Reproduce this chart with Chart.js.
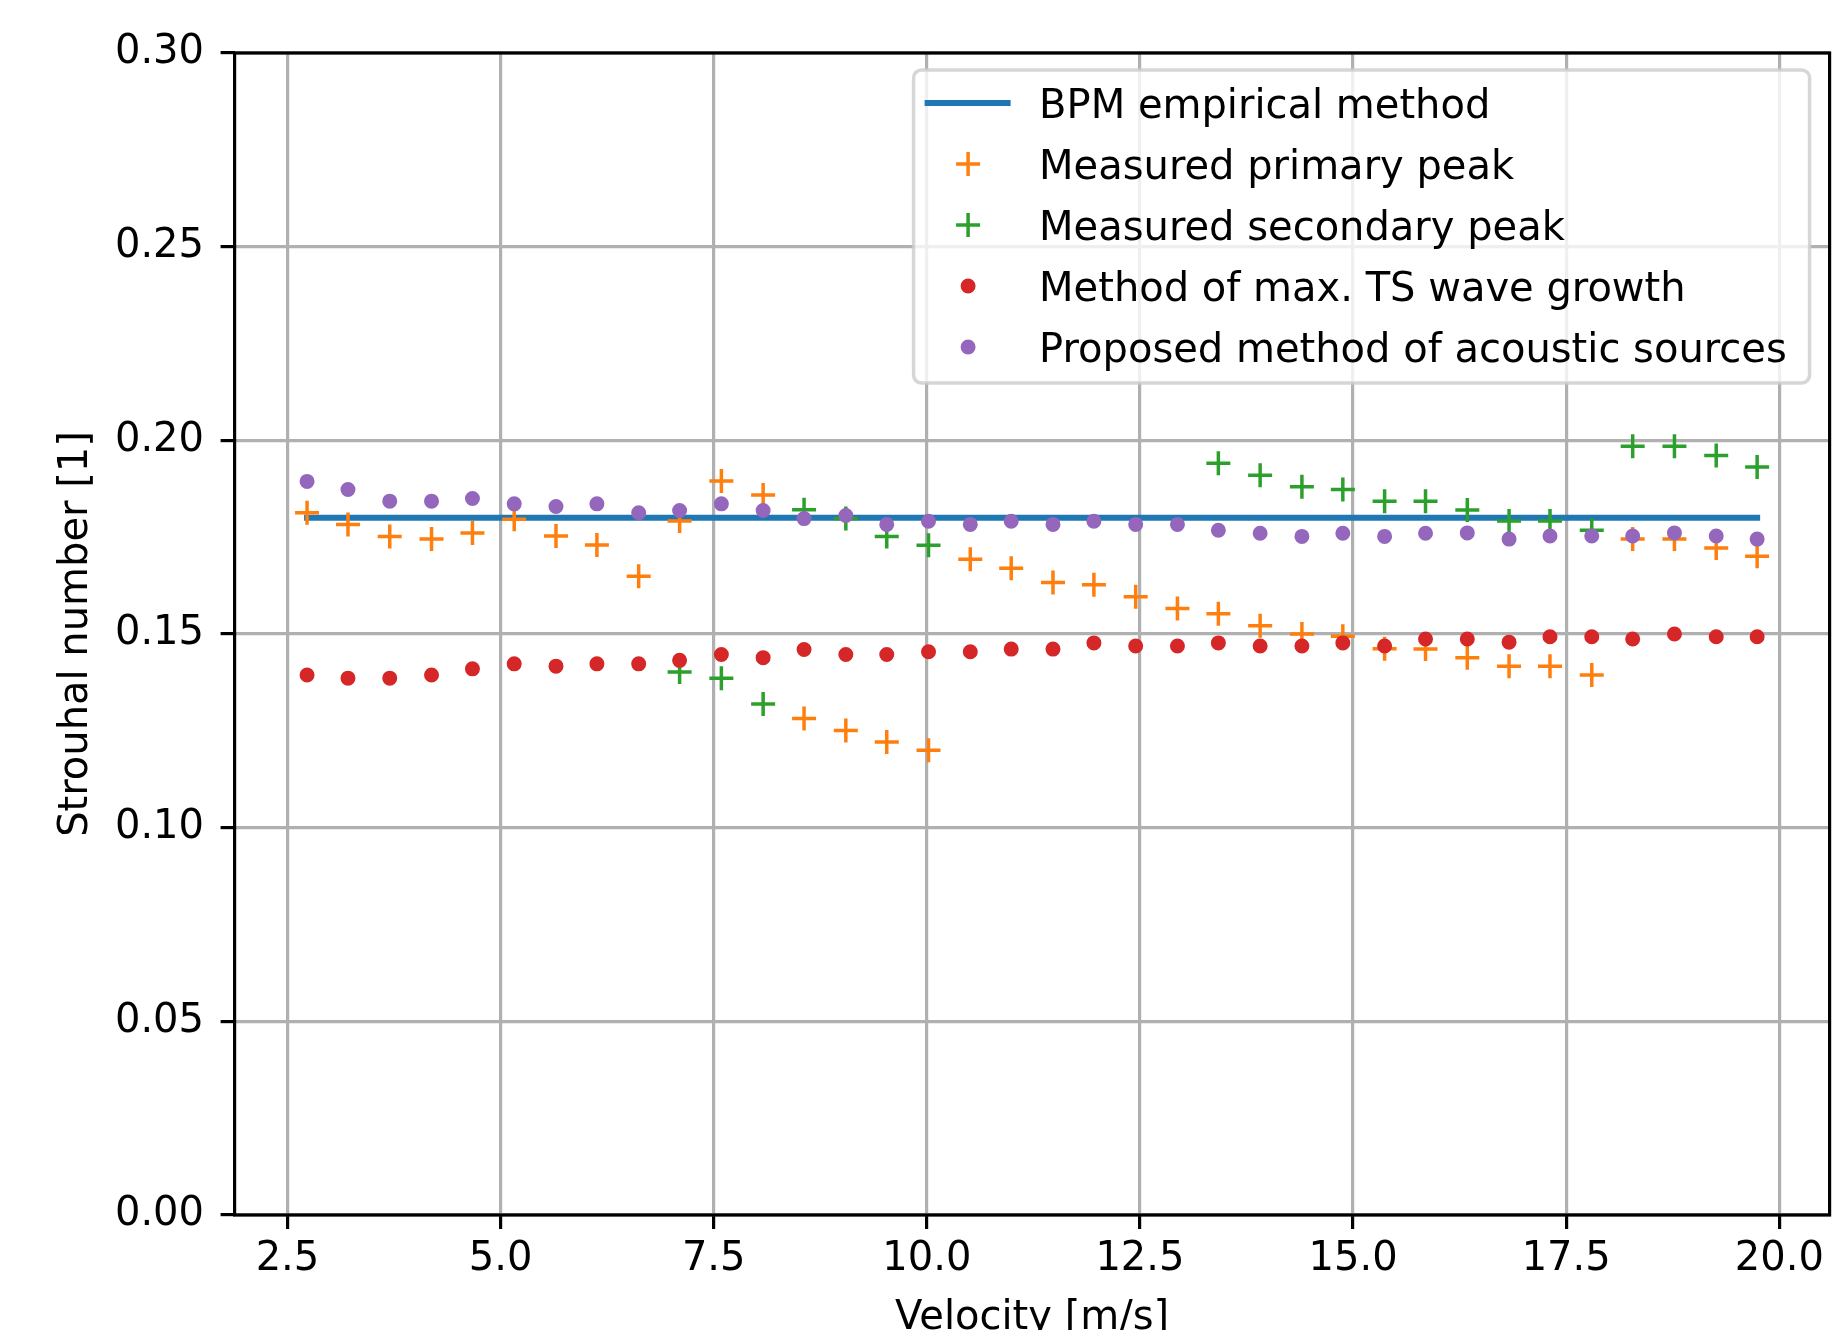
<!DOCTYPE html>
<html>
<head>
<meta charset="utf-8">
<script src="https://cdn.jsdelivr.net/npm/chart.js@4/dist/chart.umd.min.js"></script>
<style>
html, body { margin: 0; padding: 0; background: #ffffff; overflow: hidden; width: 1839px; height: 1330px; }
canvas { display: block; }
</style>
</head>
<body>
<canvas id="c" width="1839" height="1370" style="width:1839px;height:1370px"></canvas>
<script>
// ---- data ----
const velocity = [2.73, 3.21, 3.70, 4.19, 4.67, 5.16, 5.65, 6.13, 6.62, 7.10, 7.59, 8.08, 8.56, 9.05, 9.53, 10.02, 10.51, 10.99,
                  11.48, 11.96, 12.45, 12.94, 13.42, 13.91, 14.40, 14.88, 15.37, 15.85, 16.34, 16.83, 17.31, 17.80, 18.28, 18.77, 19.26, 19.74];
const bpmEmpirical = [0.18, 0.18, 0.18, 0.18, 0.18, 0.18, 0.18, 0.18, 0.18, 0.18, 0.18, 0.18, 0.18, 0.18, 0.18, 0.18, 0.18, 0.18,
                      0.18, 0.18, 0.18, 0.18, 0.18, 0.18, 0.18, 0.18, 0.18, 0.18, 0.18, 0.18, 0.18, 0.18, 0.18, 0.18, 0.18, 0.18];
const primaryPeak = [0.1813, 0.1783, 0.1752, 0.1745, 0.1761, 0.1796, 0.1753, 0.1730, 0.1649, 0.1792, 0.1895, 0.1859, 0.1282, 0.1251,
                     0.1221, 0.1200, 0.1693, 0.1670, 0.1633, 0.1627, 0.1596, 0.1566, 0.1552, 0.1521, 0.1500, 0.1494, 0.1462, 0.1461,
                     0.1439, 0.1417, 0.1417, 0.1394, 0.1745, 0.1745, 0.1722, 0.1701];
const secondaryPeak = [null, null, null, null, null, null, null, null, null, 0.1402, 0.1386, 0.1319, 0.1821, 0.1798, 0.1752, 0.1729,
                       null, null, null, null, null, null, 0.1941, 0.1910, 0.1880, 0.1873, 0.1843, 0.1843, 0.1820, 0.1792, 0.1792,
                       0.1768, 0.1985, 0.1985, 0.1961, 0.1931];
const tsWaveGrowth = [0.1394, 0.1386, 0.1386, 0.1394, 0.1410, 0.1423, 0.1417, 0.1423, 0.1423, 0.1432, 0.1447, 0.1439, 0.1460, 0.1447,
                      0.1447, 0.1454, 0.1454, 0.1461, 0.1461, 0.1477, 0.1469, 0.1469, 0.1477, 0.1469, 0.1469, 0.1477, 0.1469, 0.1487,
                      0.1487, 0.1479, 0.1493, 0.1493, 0.1487, 0.1500, 0.1493, 0.1493];
const acousticSources = [0.1894, 0.1873, 0.1843, 0.1843, 0.1850, 0.1836, 0.1829, 0.1836, 0.1813, 0.1819, 0.1836, 0.1819, 0.1798, 0.1806,
                         0.1783, 0.1791, 0.1783, 0.1791, 0.1783, 0.1791, 0.1783, 0.1783, 0.1768, 0.1760, 0.1752, 0.1760, 0.1752, 0.1760,
                         0.1761, 0.1745, 0.1753, 0.1753, 0.1753, 0.1761, 0.1753, 0.1745];
const seriesLabels = ['BPM empirical method', 'Measured primary peak', 'Measured secondary peak',
                      'Method of max. TS wave growth', 'Proposed method of acoustic sources'];
const xTickValues = [2.5, 5.0, 7.5, 10.0, 12.5, 15.0, 17.5, 20.0];
const xTickLabels = ['2.5', '5.0', '7.5', '10.0', '12.5', '15.0', '17.5', '20.0'];
const yTickValues = [0.00, 0.05, 0.10, 0.15, 0.20, 0.25, 0.30];
const yTickLabels = ['0.00', '0.05', '0.10', '0.15', '0.20', '0.25', '0.30'];
const xAxisTitle = 'Velocity [m/s]';
const yAxisTitle = 'Strouhal number [1]';

// ---- styling ----
const FONT = 'DejaVu Sans';
const FS = 40;
const colors = ['#1f77b4', '#ff7f0e', '#2ca02c', '#d62728', '#9467bd'];

function pts(ys) {
  const out = [];
  for (let i = 0; i < velocity.length; i++) {
    if (ys[i] !== null && ys[i] !== undefined) out.push({ x: velocity[i], y: ys[i] });
  }
  return out;
}

const frameAndLegend = {
  id: 'frameAndLegend',
  afterDatasetsDraw(chart) {
    const ctx = chart.ctx;
    const ca = chart.chartArea;
    ctx.save();
    // axes frame
    ctx.strokeStyle = '#000000';
    ctx.lineWidth = 3.2;
    ctx.strokeRect(ca.left, ca.top, ca.right - ca.left, ca.bottom - ca.top);

    // legend box
    const bw = 896, bh = 313;
    const bx = ca.right - 20 - bw;
    const by = ca.top + 17;
    const r = 8;
    ctx.beginPath();
    ctx.moveTo(bx + r, by);
    ctx.lineTo(bx + bw - r, by);
    ctx.arcTo(bx + bw, by, bx + bw, by + r, r);
    ctx.lineTo(bx + bw, by + bh - r);
    ctx.arcTo(bx + bw, by + bh, bx + bw - r, by + bh, r);
    ctx.lineTo(bx + r, by + bh);
    ctx.arcTo(bx, by + bh, bx, by + bh - r, r);
    ctx.lineTo(bx, by + r);
    ctx.arcTo(bx, by, bx + r, by, r);
    ctx.closePath();
    ctx.fillStyle = 'rgba(255,255,255,0.8)';
    ctx.fill();
    ctx.strokeStyle = 'rgba(204,204,204,0.8)';
    ctx.lineWidth = 3.5;
    ctx.stroke();

    const ds = chart.data.datasets;
    for (let i = 0; i < ds.length; i++) {
      const cy = by + 33 + i * 61;
      const mx = bx + 54.5;
      const d = ds[i];
      if (i === 0) {
        ctx.strokeStyle = d.borderColor;
        ctx.lineWidth = 6;
        ctx.lineCap = 'butt';
        ctx.beginPath();
        ctx.moveTo(bx + 11, cy);
        ctx.lineTo(bx + 97, cy);
        ctx.stroke();
      } else if (d.pointStyle === 'cross') {
        const rr = d.pointRadius;
        ctx.strokeStyle = d.borderColor;
        ctx.lineWidth = d.borderWidth;
        ctx.beginPath();
        ctx.moveTo(mx - rr, cy); ctx.lineTo(mx + rr, cy);
        ctx.moveTo(mx, cy - rr); ctx.lineTo(mx, cy + rr);
        ctx.stroke();
      } else {
        ctx.fillStyle = d.backgroundColor;
        ctx.beginPath();
        ctx.arc(mx, cy, d.pointRadius + d.borderWidth / 2, 0, Math.PI * 2);
        ctx.fill();
      }
      ctx.fillStyle = '#000000';
      ctx.font = FS + 'px "' + FONT + '"';
      ctx.textAlign = 'left';
      ctx.textBaseline = 'alphabetic';
      ctx.fillText(d.label, bx + 125.5, cy + 14.5);
    }
    ctx.restore();
  }
};

new Chart(document.getElementById('c'), {
  type: 'scatter',
  data: {
    datasets: [
      {
        type: 'line', label: seriesLabels[0], data: pts(bpmEmpirical),
        borderColor: colors[0], backgroundColor: colors[0], borderWidth: 6, borderCapStyle: 'square',
        pointRadius: 0, showLine: true, fill: false, tension: 0, order: 5
      },
      {
        label: seriesLabels[1], data: pts(primaryPeak), pointStyle: 'cross', pointRadius: 12,
        borderColor: colors[1], backgroundColor: colors[1], borderWidth: 3.5, order: 4
      },
      {
        label: seriesLabels[2], data: pts(secondaryPeak), pointStyle: 'cross', pointRadius: 12,
        borderColor: colors[2], backgroundColor: colors[2], borderWidth: 3.5, order: 3
      },
      {
        label: seriesLabels[3], data: pts(tsWaveGrowth), pointStyle: 'circle', pointRadius: 6.5,
        borderColor: colors[3], backgroundColor: colors[3], borderWidth: 2, order: 2
      },
      {
        label: seriesLabels[4], data: pts(acousticSources), pointStyle: 'circle', pointRadius: 6.5,
        borderColor: colors[4], backgroundColor: colors[4], borderWidth: 2, order: 1
      }
    ]
  },
  options: {
    responsive: false,
    animation: false,
    events: [],
    devicePixelRatio: 1,
    layout: { autoPadding: false, padding: { left: 0, top: 53, right: 9.4, bottom: 0 } },
    plugins: { legend: { display: false }, tooltip: { enabled: false }, title: { display: false } },
    scales: {
      x: {
        type: 'linear', position: 'bottom', min: 1.88, max: 20.59,
        afterBuildTicks: (s) => { s.ticks = xTickValues.map(v => ({ value: v })); },
        afterFit: (s) => { s.height = 1370 - 1215; s.paddingLeft = 0; s.paddingRight = 0; },
        ticks: {
          autoSkip: false, maxRotation: 0, minRotation: 0, padding: 7,
          color: '#000000', font: { family: FONT, size: FS },
          callback: (v, i) => xTickLabels[i]
        },
        grid: { color: '#b0b0b0', lineWidth: 3.2, drawTicks: true, tickLength: 14, tickColor: '#000000', tickWidth: 3.2 },
        border: { display: false },
        title: { display: true, text: xAxisTitle, color: '#000000', font: { family: FONT, size: FS }, padding: { top: 0, bottom: 27 } }
      },
      y: {
        type: 'linear', position: 'left', min: 0, max: 0.30,
        afterBuildTicks: (s) => { s.ticks = yTickValues.map(v => ({ value: v })); },
        afterFit: (s) => { s.width = 234.6; s.paddingTop = 0; s.paddingBottom = 0; },
        ticks: {
          autoSkip: false, padding: 16.6, color: '#000000', font: { family: FONT, size: FS },
          callback: (v, i) => yTickLabels[i]
        },
        grid: { color: '#b0b0b0', lineWidth: 3.2, drawTicks: true, tickLength: 14, tickColor: '#000000', tickWidth: 3.2 },
        border: { display: false },
        title: { display: true, text: yAxisTitle, color: '#000000', font: { family: FONT, size: FS }, padding: { top: 53, bottom: 0 } }
      }
    }
  },
  plugins: [frameAndLegend]
});
</script>
</body>
</html>
